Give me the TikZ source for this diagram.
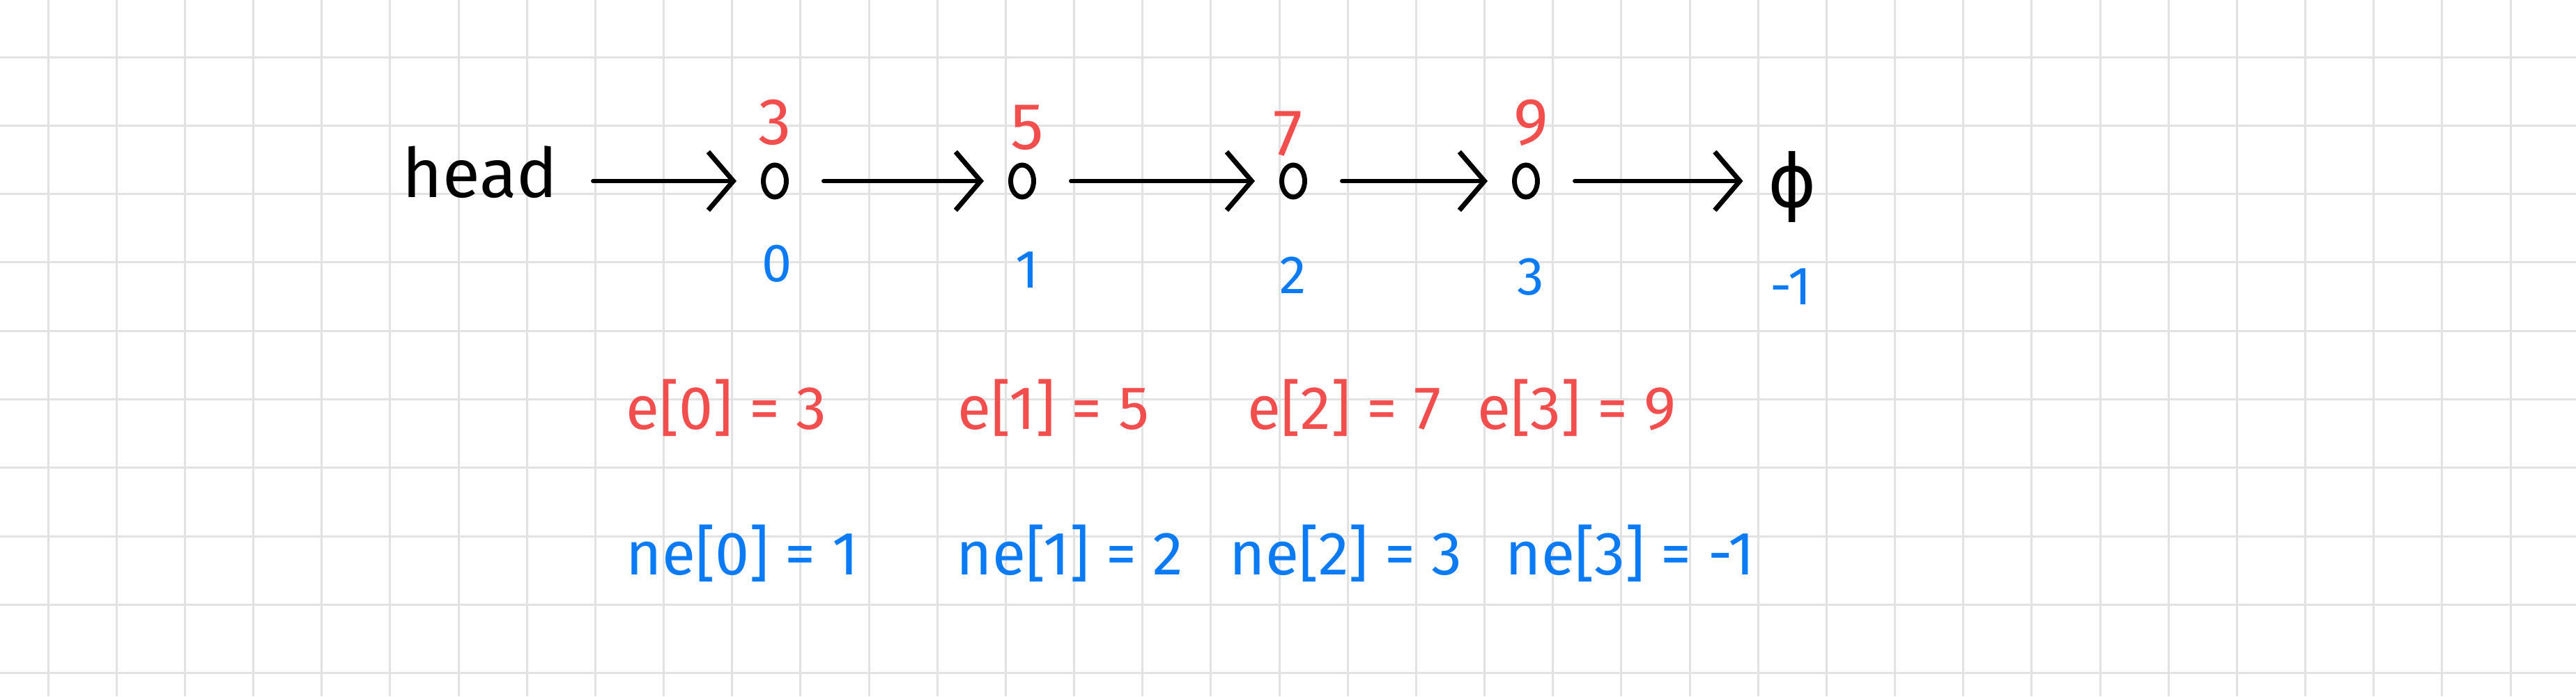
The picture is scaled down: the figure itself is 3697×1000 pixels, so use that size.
\documentclass[tikz,border=0pt]{standalone}
\usepackage{amsmath}
\usepackage{fontspec}
\setmainfont{Fira Sans}
\newfontfamily\symfont{DejaVu Sans}
\usepackage{tikz}
\usepackage{xcolor}
\usetikzlibrary{shapes.geometric,arrows.meta}

\definecolor{valred}{HTML}{F24E4E}
\definecolor{idxblue}{HTML}{0A7AF5}
\definecolor{gridgray}{HTML}{E2E2E2}

\tikzset{
  gridline/.style={draw=gridgray, line width=0.3mm},
  ink/.style={text=black, inner sep=0pt, font=\fontsize{28}{30}\selectfont},
  val/.style={text=valred, inner sep=0pt, font=\fontsize{27}{29}\selectfont},
  idx/.style={text=idxblue, inner sep=0pt, font=\fontsize{22}{24}\selectfont},
  slot/.style={ellipse, draw, line width=0.7mm, minimum width=3.3mm, minimum height=4.6mm, inner sep=0pt},
  link/.style={line width=0.6mm, line cap=round, shorten <=5mm, shorten >=3.5mm, -{Straight Barb[length=3.6mm,width=8.4mm,line width=0.7mm]}},
}

\begin{document}
\begin{tikzpicture}[x=0.1mm, y=-0.1mm]
\fill[white] (0,0) rectangle (3697,1000);
\useasboundingbox (0,0) rectangle (3697,1000);
\foreach \i in {0,...,36}
  \draw[gridline] ({69+98.17*\i},0) -- ({69+98.17*\i},1000);
\foreach \j in {0,...,9}
  \draw[gridline] (0,{82+98.3*\j}) -- (3697,{82+98.3*\j});

\node[ink, anchor=base] (head) at (689,283) {head};
\node[slot] (s0) at (1112,260) {};
\node[slot] (s1) at (1467,260) {};
\node[slot] (s2) at (1856,260) {};
\node[slot] (s3) at (2190,260) {};
\node[ink, font=\symfont\fontsize{30}{32}\selectfont] (nil) at (2572,268) {ϕ};

\draw[link] (head.east |- s0) -- (s0);
\draw[link] (s0) -- (s1);
\draw[link] (s1) -- (s2);
\draw[link] (s2) -- (s3);
\draw[link] (s3) -- (s3 -| nil.west);

\node[val] (v0) at (1112,176) {3};
\node[val] (v1) at (1474,183) {5};
\node[val] (v2) at (1849,192) {7};
\node[val] (v3) at (2197,176) {9};

\node[idx] (i0) at (1115,379) {0};
\node[idx] (i1) at (1474,388) {1};
\node[idx] (i2) at (1856,395) {2};
\node[idx] (i3) at (2197,398) {3};
\node[idx] (i4) at (2570,412) {-1};

\node[val, anchor=base west, font=\fontsize{25}{27}\selectfont] (e0) at (898,616) {e[0] = 3};
\node[val, anchor=base west, font=\fontsize{25}{27}\selectfont] (e1) at (1374,616) {e[1] = 5};
\node[val, anchor=base west, font=\fontsize{25}{27}\selectfont] (e2) at (1790,616) {e[2] = 7};
\node[val, anchor=base west, font=\fontsize{25}{27}\selectfont] (e3) at (2120,616) {e[3] = 9};

\node[idx, anchor=base west, font=\fontsize{25}{27}\selectfont] (ne0) at (898,825) {ne[0] = 1};
\node[idx, anchor=base west, font=\fontsize{25}{27}\selectfont] (ne1) at (1372,825) {ne[1] = 2};
\node[idx, anchor=base west, font=\fontsize{25}{27}\selectfont] (ne2) at (1764,825) {ne[2] = 3};
\node[idx, anchor=base west, font=\fontsize{25}{27}\selectfont] (ne3) at (2160,825) {ne[3] = -1};
\end{tikzpicture}
\end{document}
